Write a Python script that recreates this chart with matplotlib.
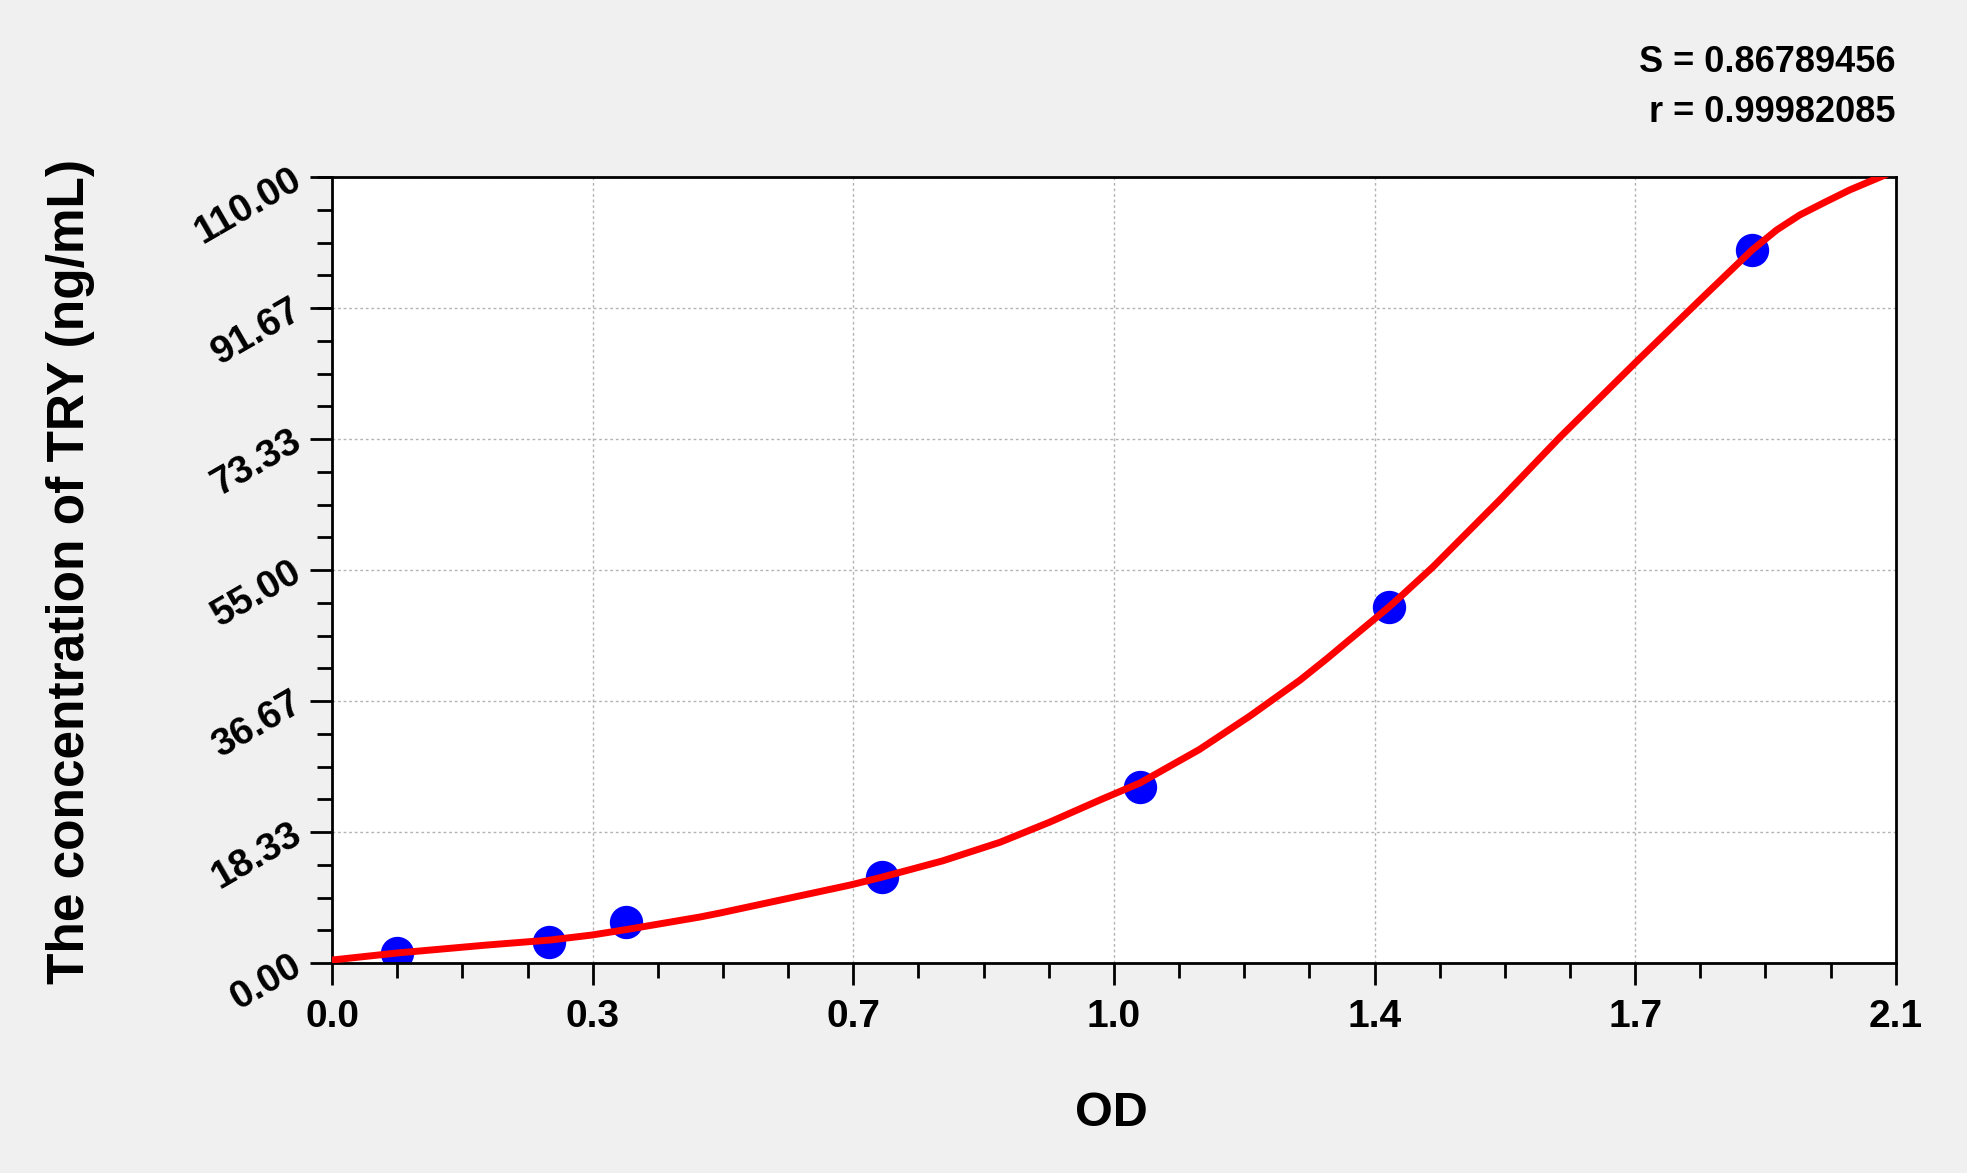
import numpy as np
import matplotlib
matplotlib.use("Agg")
import matplotlib.pyplot as plt
from matplotlib import font_manager
from matplotlib.ticker import FixedLocator, AutoMinorLocator

# standard points (OD vs concentration)
od = [0.087, 0.291, 0.395, 0.738, 1.085, 1.419, 1.907]
conc = [1.45, 2.9, 5.8, 12.1, 24.7, 49.8, 99.8]

# fitted curve
curve_od = [0.000, 0.087, 0.208, 0.293, 0.349, 0.396, 0.494, 0.521, 0.696, 0.736,
            0.820, 0.897, 0.964, 1.031, 1.085, 1.165, 1.233, 1.300, 1.336, 1.367,
            1.419, 1.434, 1.478, 1.568, 1.649, 1.750, 1.837, 1.907, 1.940, 1.971,
            2.005, 2.038, 2.088]
curve_conc = [0.42, 1.40, 2.52, 3.22, 3.92, 4.70, 6.44, 7.00, 10.92, 11.95,
              14.3, 16.9, 19.73, 22.81, 25.2, 29.9, 34.6, 39.6, 42.6, 45.3,
              49.8, 51.2, 55.4, 64.8, 73.6, 84.0, 92.8, 99.8, 102.6, 104.7,
              106.5, 108.2, 110.4]

xticks = [0.0, 0.35, 0.7, 1.05, 1.4, 1.75, 2.1]
xticklabels = ["0.0", "0.3", "0.7", "1.0", "1.4", "1.7", "2.1"]
yticks = [0.0, 18.333, 36.667, 55.0, 73.333, 91.667, 110.0]
yticklabels = ["0.00", "18.33", "36.67", "55.00", "73.33", "91.67", "110.00"]

stats = ["S = 0.86789456", "r = 0.99982085"]

names = {f.name for f in font_manager.fontManager.ttflist}
narrow = "Liberation Sans Narrow" if "Liberation Sans Narrow" in names else "Liberation Sans"
plt.rcParams['font.family'] = ["Liberation Sans", "DejaVu Sans"]

fig = plt.figure(figsize=(19.67, 11.73), dpi=100, facecolor="#f0f0f0")
ax = fig.add_axes([0.1688, 0.179, 0.795, 0.670])
ax.set_facecolor("white")

ax.grid(True, which="major", color="#b4b4b4", linestyle=(0, (2, 2)), linewidth=1.0)
ax.plot(curve_od, curve_conc, color="#ff0000", linewidth=5, zorder=3,
        solid_joinstyle="round", solid_capstyle="round")
ax.plot(od, conc, "o", color="#0000ff", markersize=23, zorder=2)

ax.set_xlim(0, 2.1)
ax.set_ylim(0, 110)
ax.xaxis.set_major_locator(FixedLocator(xticks))
ax.yaxis.set_major_locator(FixedLocator(yticks))
ax.xaxis.set_minor_locator(AutoMinorLocator(4))
ax.yaxis.set_minor_locator(AutoMinorLocator(4))
ax.set_xticklabels(xticklabels, fontfamily=narrow, fontweight="bold", fontsize=28)
ax.set_yticklabels(yticklabels, fontfamily=narrow, fontweight="bold", fontsize=28,
                   rotation=30, ha="right", va="center", rotation_mode="anchor")
ax.tick_params(which="major", length=16, width=2, direction="out")
ax.tick_params(which="minor", length=11, width=2, direction="out")
ax.tick_params(axis="x", pad=10)
ax.tick_params(axis="y", pad=8)
for sp in ax.spines.values():
    sp.set_linewidth(2)

fig.text(0.565, 0.051, "OD", fontsize=35, fontweight="bold", ha="center", va="center")
fig.text(0.036, 0.513, "The concentration of TRY (ng/mL)", fontsize=37, fontweight="bold",
         rotation=90, ha="center", va="center")
fig.text(0.9638, 0.9465, stats[0], fontsize=26, fontweight="bold", ha="right", va="center")
fig.text(0.9638, 0.904, stats[1], fontsize=26, fontweight="bold", ha="right", va="center")

fig.savefig("out.png", dpi=100, facecolor=fig.get_facecolor())
